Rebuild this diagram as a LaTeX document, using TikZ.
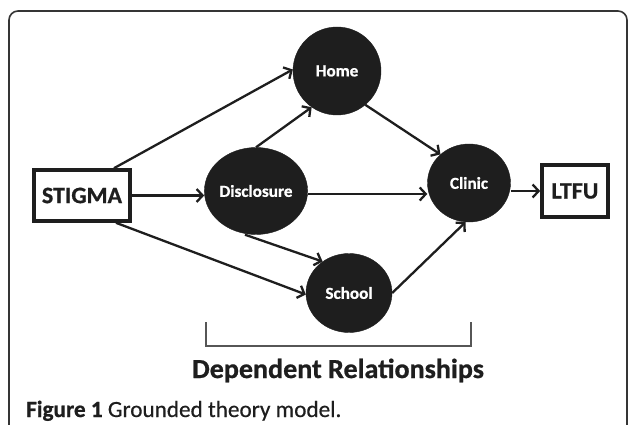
\documentclass[tikz,border=0pt]{standalone}
\usepackage{fontspec}
\usetikzlibrary{arrows.meta,shapes.geometric,calc}
\newfontfamily\figfont{Carlito}[FakeStretch=1.02,BoldFeatures={FakeBold=0.8}]
\newfontfamily\capfont{Carlito}[FakeStretch=1.0,FakeBold=0.5,BoldFeatures={FakeBold=0.8}]
\definecolor{ink}{HTML}{1E1E1E}
\begin{document}
\begin{tikzpicture}[x=1pt,y=-1pt,
  every node/.style={font=\figfont},
  bubble/.style={ellipse,fill=ink,draw=ink,inner sep=0pt,text=white,font=\figfont\bfseries\fontsize{16.8}{19}\selectfont},
  endbox/.style={rectangle,draw=ink,line width=3.6pt,fill=white,inner sep=0pt,text=ink,font=\figfont\bfseries\fontsize{23.5}{26}\selectfont},
  link/.style={draw=ink,line width=2.3pt,-{Straight Barb[length=6pt,width=13pt,line width=2.3pt]}},
  bracketline/.style={draw=ink!75,line width=1.5pt}
]
\useasboundingbox (0,0) rectangle (629,425);
\fill[white] (0,0) rectangle (629,425);
\draw[ink!90,line width=1.6pt,rounded corners=9pt] (9,11) rectangle (627,445);

\node[bubble,minimum width=88pt,minimum height=88pt] (home) at (337,71) {Home};
\node[bubble,minimum width=93pt,minimum height=87pt] (disc) at (256,191) {Disclosure};
\node[bubble,minimum width=83pt,minimum height=78pt] (clinic) at (469,183) {Clinic};
\node[bubble,minimum width=86pt,minimum height=79pt] (school) at (349,293) {School};
\node[endbox,minimum width=96pt,minimum height=51pt] (stigma) at (82,195.5) {STIGMA};
\node[endbox,minimum width=66pt,minimum height=52pt] (ltfu) at (575,191) {LTFU};

\draw[link] ([xshift=32pt]stigma.north) -- (home.178);
\draw[link] (stigma.east) -- (disc.west |- stigma.east);
\draw[link] ([xshift=34pt]stigma.south) -- (school.182);
\draw[link] (disc.north) -- (home.235);
\draw[link] (disc.east |- 0,194) -- (clinic.west |- 0,194);
\draw[link] ([xshift=-11pt]disc.south) -- (school.130);
\draw[link] (home.-50) -- (clinic.135);
\draw[link] (school.east) -- (clinic.-95);
\draw[link] (clinic.east |- ltfu.west) -- (ltfu.west);

\coordinate (bl) at (206,322);
\coordinate (br) at (471,322);
\draw[bracketline] (bl) -- ++(0,24) -| (br);
\node[anchor=base,text=ink,inner sep=0pt,font=\figfont\bfseries\fontsize{27.5}{30}\selectfont] (dep) at (338,378) {Dependent Relationships};
\node[anchor=base west,text=ink,inner sep=0pt,font=\capfont\fontsize{23.2}{26}\selectfont] (cap) at (26,417) {\textbf{Figure 1} Grounded theory model.};
\end{tikzpicture}
\end{document}
